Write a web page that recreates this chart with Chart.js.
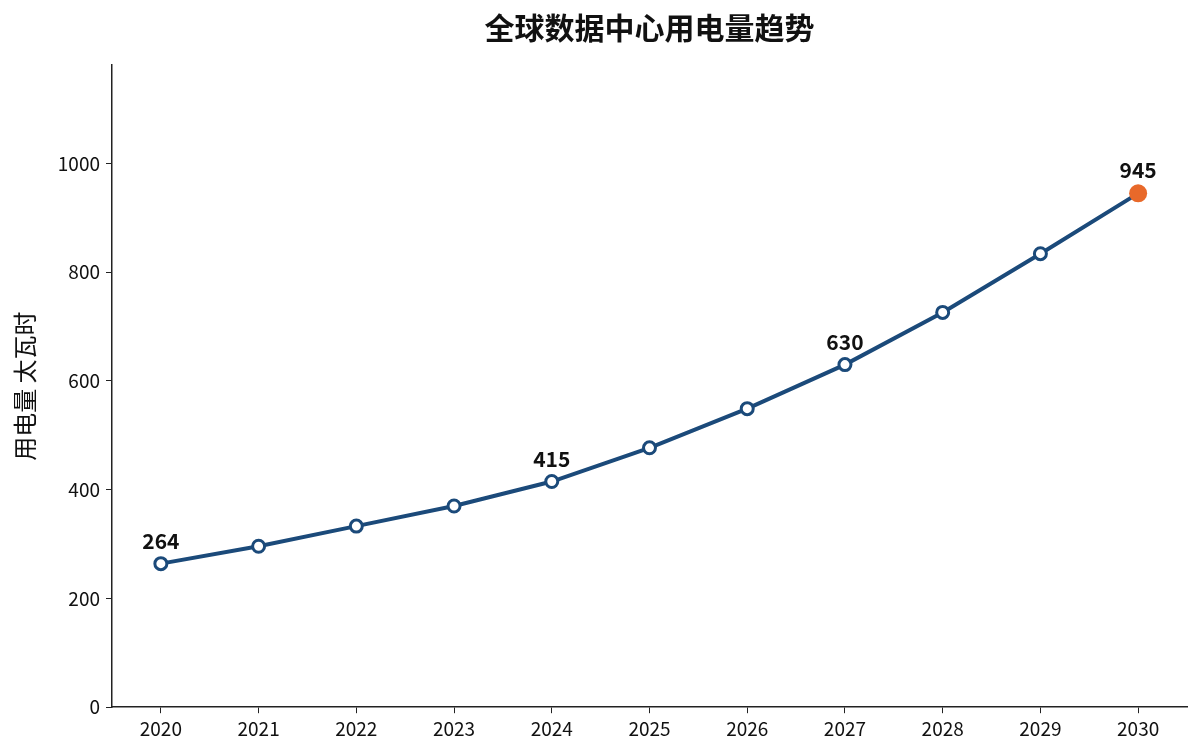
<!DOCTYPE html>
<html>
<head>
<meta charset="utf-8">
<script src="https://cdn.jsdelivr.net/npm/chart.js@4"></script>
<style>
  html, body { margin: 0; padding: 0; background: #fff; }
  #wrap { width: 1200px; height: 754px; }
</style>
</head>
<body>
<div id="wrap"><canvas id="c" width="1200" height="754"></canvas></div>
<script>
// data
const years = ['2020', '2021', '2022', '2023', '2024', '2025', '2026', '2027', '2028', '2029', '2030'];
const usage = [264, 296, 333, 370, 415, 477, 549, 630, 726, 834, 945];
const labelYears = ['2020', '2024', '2027', '2030'];
const yTicks = [0, 200, 400, 600, 800, 1000];

const FONT = '"Noto Sans CJK SC", "Noto Sans", sans-serif';
const LINE = '#1b4a7a';
const LAST = '#e8692a';

const lastIdx = usage.length - 1;

// value labels above selected points
const valueLabels = {
  id: 'valueLabels',
  afterDatasetsDraw(chart) {
    const ctx = chart.ctx;
    const meta = chart.getDatasetMeta(0);
    ctx.save();
    ctx.font = 'bold 21px ' + FONT;
    ctx.fillStyle = '#111';
    ctx.textAlign = 'center';
    ctx.textBaseline = 'middle';
    years.forEach((yr, i) => {
      if (!labelYears.includes(yr)) return;
      const pt = meta.data[i];
      ctx.fillText(String(usage[i]), pt.x, pt.y - 23);
    });
    ctx.restore();
  }
};

new Chart(document.getElementById('c'), {
  type: 'line',
  data: {
    labels: years,
    datasets: [{
      data: usage,
      borderColor: LINE,
      borderWidth: 4,
      tension: 0,
      pointRadius: usage.map((v, i) => i === lastIdx ? 9 : 6),
      pointBorderWidth: usage.map((v, i) => i === lastIdx ? 0 : 3),
      pointBackgroundColor: usage.map((v, i) => i === lastIdx ? LAST : '#fff'),
      pointBorderColor: usage.map((v, i) => i === lastIdx ? LAST : LINE),
      pointHoverRadius: 6
    }]
  },
  options: {
    responsive: false,
    animation: false,
    layout: { padding: { left: 0, right: 13, top: 0, bottom: 10 } },
    plugins: {
      legend: { display: false },
      tooltip: { enabled: false },
      title: {
        display: true,
        fullSize: false,
        text: '全球数据中心用电量趋势',
        color: '#111',
        font: { family: FONT, size: 30, weight: 'bold' },
        padding: { top: 10, bottom: 19 }
      }
    },
    scales: {
      x: {
        offset: true,
        grid: { display: true, drawOnChartArea: false, drawTicks: true, tickLength: 6, color: '#222' },
        border: { display: true, color: '#222', width: 1.5 },
        ticks: { color: '#111', font: { family: FONT, size: 19 }, padding: 4 }
      },
      y: {
        min: 0,
        max: 1181,
        afterBuildTicks(scale) {
          scale.ticks = yTicks.map(v => ({ value: v }));
        },
        afterFit(scale) { scale.width = 112; },
        grid: { display: true, drawOnChartArea: false, drawTicks: true, tickLength: 6, color: '#222' },
        border: { display: true, color: '#222', width: 1.5 },
        ticks: {
          color: '#111',
          font: { family: FONT, size: 19 },
          padding: 6,
          callback: v => String(v)
        },
        title: {
          display: true,
          text: '用电量 太瓦时',
          color: '#111',
          font: { family: FONT, size: 24 },
          padding: { top: 10, bottom: 0 }
        }
      }
    }
  },
  plugins: [valueLabels]
});
</script>
</body>
</html>
